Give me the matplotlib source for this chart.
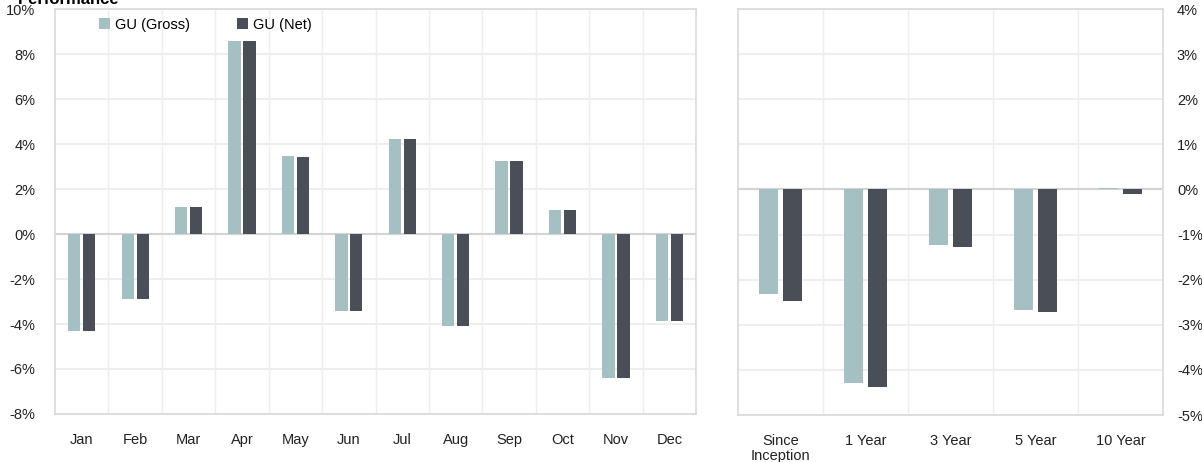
import numpy as np
import matplotlib
matplotlib.use("Agg")
import matplotlib.pyplot as plt
from matplotlib.ticker import FixedLocator, PercentFormatter

plt.rcParams['font.family'] = ['Liberation Sans', 'DejaVu Sans']
plt.rcParams['axes.unicode_minus'] = False

months = ['Jan', 'Feb', 'Mar', 'Apr', 'May', 'Jun', 'Jul', 'Aug', 'Sep', 'Oct', 'Nov', 'Dec']
gross_m = [-4.31, -2.89, 1.21, 8.58, 3.45, -3.42, 4.22, -4.09, 3.24, 1.07, -6.40, -3.86]
net_m = [-4.32, -2.90, 1.20, 8.58, 3.44, -3.43, 4.21, -4.10, 3.23, 1.05, -6.42, -3.88]

periods = ['Since\nInception', '1 Year', '3 Year', '5 Year', '10 Year']
gross_p = [-2.31, -4.30, -1.24, -2.68, 0.04]
net_p = [-2.47, -4.37, -1.27, -2.72, -0.10]

c_gross = '#a5c0c3'
c_net = '#4a4e56'
grid_c = '#eeeeee'
spine_c = '#d9d9d9'

fig = plt.figure(figsize=(12.02, 4.62), dpi=100)
ax1 = fig.add_axes([0.0458, 0.1039, 0.5333, 0.8766])
ax2 = fig.add_axes([0.614, 0.1017, 0.3536, 0.8788])


def style(ax, n):
    for s in ax.spines.values():
        s.set_color(spine_c)
        s.set_linewidth(1.2)
    ax.set_xlim(-0.5, n - 0.5)
    ax.xaxis.set_minor_locator(FixedLocator(np.arange(0.5, n - 0.5, 1)))
    ax.grid(axis='x', which='minor', color=grid_c, lw=1)
    ax.grid(axis='y', which='major', color=grid_c, lw=1.5)
    ax.tick_params(which='both', length=0, labelsize=10.5, colors='#222222')
    ax.set_axisbelow(True)
    ax.axhline(0, color='#d4d4d4', lw=1.5, zorder=1)


w = 0.23
off = 0.14
x = np.arange(len(months))
ax1.bar(x - off, gross_m, w, color=c_gross, label='GU (Gross)', zorder=3)
ax1.bar(x + off, net_m, w, color=c_net, label='GU (Net)', zorder=3)
style(ax1, len(months))
ax1.set_ylim(-8, 10)
ax1.set_yticks(np.arange(-8, 11, 2))
ax1.yaxis.set_major_formatter(PercentFormatter(decimals=0))
ax1.set_xticks(x)
ax1.set_xticklabels(months)
ax1.tick_params(axis='y', pad=14)
ax1.tick_params(axis='x', pad=14)
ax1.legend(loc='upper left', bbox_to_anchor=(0.055, 1.0), ncol=2, frameon=False,
           fontsize=10.5, handlelength=0.75, handleheight=0.75, handletextpad=0.35,
           columnspacing=3.2, borderaxespad=0.2)

xp = np.arange(len(periods))
ax2.bar(xp - off, gross_p, 0.22, color=c_gross, zorder=3)
ax2.bar(xp + off, net_p, 0.22, color=c_net, zorder=3)
style(ax2, len(periods))
ax2.set_ylim(-5, 4)
ax2.set_yticks(np.arange(-5, 5, 1))
ax2.yaxis.set_major_formatter(PercentFormatter(decimals=0))
ax2.yaxis.tick_right()
ax2.set_xticks(xp)
ax2.set_xticklabels(periods, linespacing=1.05)
ax2.tick_params(axis='y', pad=10)
ax2.tick_params(axis='x', pad=14)

fig.text(18 / 1202, 1 - 4 / 462, 'Performance', fontsize=12, fontweight='bold',
         va='baseline', ha='left')

fig.savefig('out.png', dpi=100)
